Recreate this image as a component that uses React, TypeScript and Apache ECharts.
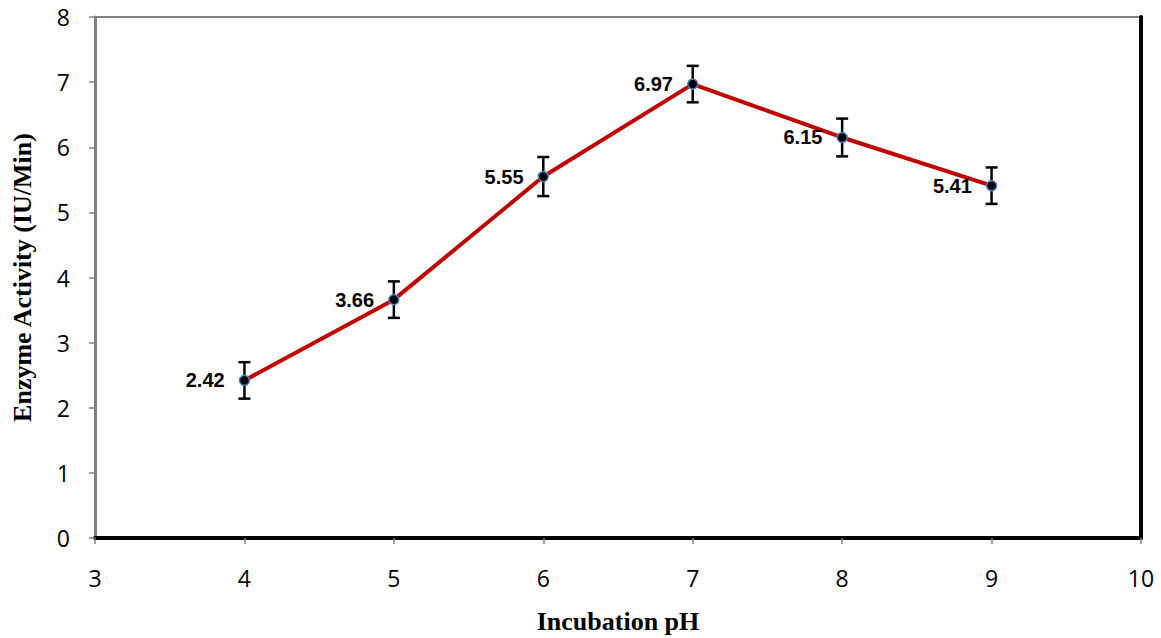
import React, { useEffect, useRef } from "react";
import * as echarts from "echarts";

const phValues = [4, 5, 6, 7, 8, 9];
const activity = [2.42, 3.66, 5.55, 6.97, 6.15, 5.41];
const errors = [0.28, 0.28, 0.3, 0.28, 0.29, 0.28];
const xTicks = [3, 4, 5, 6, 7, 8, 9, 10];

export default function App() {
  const ref = useRef<HTMLDivElement>(null);
  useEffect(() => {
    document.body.style.margin = "0";
    const chart = echarts.init(ref.current!, null, { renderer: "svg" });
    const lineData = phValues.map((x, i) => [x, activity[i]]);
    const errData = phValues.map((x, i) => [x, activity[i] - errors[i], activity[i] + errors[i]]);
    const tickFont = { fontFamily: "Open Sans, sans-serif", fontSize: 23, color: "#000" };
    const titleFont = { fontFamily: "Liberation Serif, serif", fontWeight: "bold", fontSize: 26, color: "#000" };
    chart.setOption({
      animation: false,
      backgroundColor: "#fff",
      grid: {
        left: 95,
        right: 20,
        top: 17,
        bottom: 100,
        show: true,
        borderColor: "#000",
        borderWidth: 1,
        containLabel: false,
        outerBoundsMode: "none",
      },
      xAxis: [
        {
          type: "value",
          min: 3,
          max: 10,
          interval: 1,
          name: "Incubation pH",
          nameLocation: "middle",
          nameGap: 70,
          nameTextStyle: titleFont,
          axisLine: { show: true, lineStyle: { color: "#808080", width: 3 } },
          axisTick: { show: true, inside: false, length: 6, lineStyle: { color: "#808080", width: 1.5 } },
          axisLabel: { ...tickFont, margin: 28, formatter: (v: number) => (xTicks.includes(v) ? String(v) : "") },
          splitLine: { show: false },
        },
        {
          type: "value",
          position: "top",
          min: 3,
          max: 10,
          axisLine: { show: true, lineStyle: { color: "#000", width: 4 } },
          axisTick: { show: false },
          axisLabel: { show: false },
          splitLine: { show: false },
        },
      ],
      yAxis: [
        {
          type: "value",
          min: 0,
          max: 8,
          interval: 1,
          name: "Enzyme Activity (IU/Min)",
          nameLocation: "middle",
          nameGap: 60,
          nameTextStyle: titleFont,
          axisLine: { show: true, lineStyle: { color: "#808080", width: 3 } },
          axisTick: { show: true, inside: false, length: 6, lineStyle: { color: "#808080", width: 1.5 } },
          axisLabel: { ...tickFont, margin: 25 },
          splitLine: { show: false },
        },
        {
          type: "value",
          position: "right",
          min: 0,
          max: 8,
          axisLine: { show: true, lineStyle: { color: "#000", width: 4 } },
          axisTick: { show: false },
          axisLabel: { show: false },
          splitLine: { show: false },
        },
      ],
      series: [
        {
          type: "custom",
          xAxisIndex: 0,
          yAxisIndex: 0,
          z: 3,
          data: errData,
          renderItem: (params: any, api: any) => {
            const x = api.value(0);
            const lo = api.coord([x, api.value(1)]);
            const hi = api.coord([x, api.value(2)]);
            const cap = 6;
            const style = { stroke: "#000", lineWidth: 2.5 };
            return {
              type: "group",
              children: [
                { type: "line", shape: { x1: lo[0], y1: lo[1], x2: hi[0], y2: hi[1] }, style },
                { type: "line", shape: { x1: lo[0] - cap, y1: lo[1], x2: lo[0] + cap, y2: lo[1] }, style },
                { type: "line", shape: { x1: hi[0] - cap, y1: hi[1], x2: hi[0] + cap, y2: hi[1] }, style },
              ],
            };
          },
        },
        {
          type: "line",
          xAxisIndex: 0,
          yAxisIndex: 0,
          z: 4,
          data: lineData,
          lineStyle: { color: "#C00000", width: 4 },
          symbol: "circle",
          symbolSize: 10,
          itemStyle: { color: "#000", borderColor: "#4F81BD", borderWidth: 1.5 },
          label: {
            show: true,
            position: "left",
            distance: 14,
            fontFamily: "Liberation Sans, sans-serif",
            fontWeight: "bold",
            fontSize: 20,
            color: "#000",
            formatter: (p: any) => p.value[1].toFixed(2),
          },
        },
      ],
    });
    return () => chart.dispose();
  }, []);
  return <div ref={ref} style={{ position: "fixed", left: 0, top: 0, width: 1161, height: 638 }} />;
}
